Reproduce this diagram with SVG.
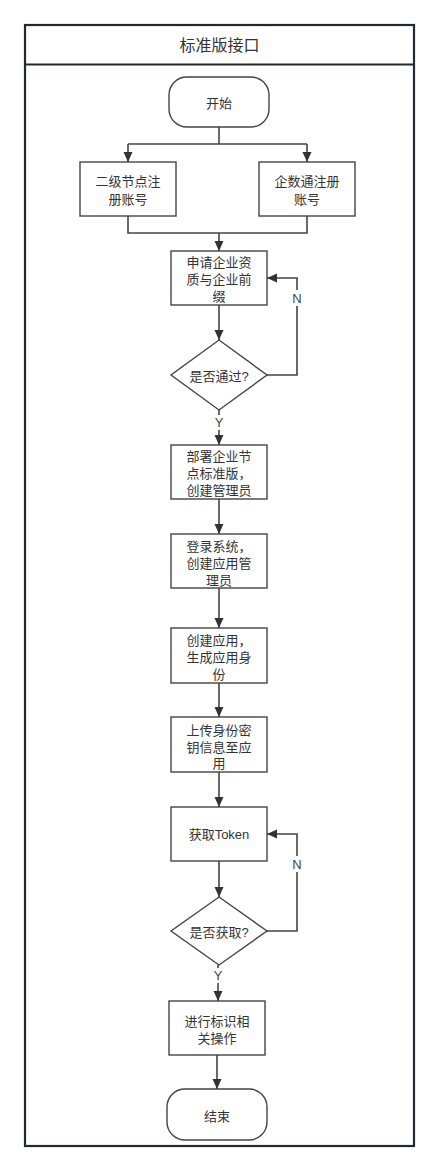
<svg xmlns="http://www.w3.org/2000/svg" width="439" height="1172" viewBox="0 0 439 1172">
<defs>
<style>
.frame{fill:#fff;stroke:#1f2a33;stroke-width:2.2}
.node{fill:#fff;stroke:#444;stroke-width:1.4}
.conn{fill:none;stroke:#444;stroke-width:1.6}
.t{font-family:"Liberation Sans","Noto Sans CJK SC",sans-serif;font-size:13px;fill:#333;text-anchor:middle;dominant-baseline:central}
.title{font-size:16px}
.lbl{font-family:"Liberation Sans","Noto Sans CJK SC",sans-serif;font-size:13px;fill:#444;text-anchor:middle;dominant-baseline:central}
</style>
<marker id="arr" viewBox="0 0 10 10" refX="10" refY="5" markerWidth="10" markerHeight="10" markerUnits="userSpaceOnUse" orient="auto">
<path d="M0,0.5 L10,5 L0,9.5 Z" fill="#333"/>
</marker>
</defs>
<rect width="439" height="1172" fill="#fff"/>
<g id="frame">
<rect class="frame" x="25" y="25" width="389" height="1121"/>
<line x1="25" y1="64.5" x2="414" y2="64.5" stroke="#1f2a33" stroke-width="2.2"/>
<text class="t title" x="219.5" y="45.5">标准版接口</text>
</g>
<g id="connectors">
<path class="conn" d="M219 127 V144 M128 144 H307"/>
<path class="conn" d="M128 144 V162" marker-end="url(#arr)"/>
<path class="conn" d="M307 144 V162" marker-end="url(#arr)"/>
<path class="conn" d="M128 216 V233 H307 V216"/>
<path class="conn" d="M219 233 V251" marker-end="url(#arr)"/>
<path class="conn" d="M219 305 V340" marker-end="url(#arr)"/>
<path class="conn" d="M267 375 H297 V278 H267" marker-end="url(#arr)"/>
<path class="conn" d="M219 410 V445" marker-end="url(#arr)"/>
<path class="conn" d="M219 499 V534" marker-end="url(#arr)"/>
<path class="conn" d="M219 588 V628" marker-end="url(#arr)"/>
<path class="conn" d="M219 683 V717" marker-end="url(#arr)"/>
<path class="conn" d="M219 772 V807" marker-end="url(#arr)"/>
<path class="conn" d="M219 861 V897" marker-end="url(#arr)"/>
<path class="conn" d="M267 931 H297 V834 H267" marker-end="url(#arr)"/>
<path class="conn" d="M218 965 V1001" marker-end="url(#arr)"/>
<path class="conn" d="M217 1055 V1089" marker-end="url(#arr)"/>
<rect x="290" y="290" width="14" height="16" fill="#fff"/>
<text class="lbl" x="297" y="298">N</text>
<rect x="290" y="856" width="14" height="16" fill="#fff"/>
<text class="lbl" x="297" y="864">N</text>
<rect x="212" y="415" width="14" height="15" fill="#fff"/>
<text class="lbl" x="219" y="422">Y</text>
<rect x="211" y="968" width="14" height="15" fill="#fff"/>
<text class="lbl" x="218" y="975">Y</text>
</g>
<g id="start">
<rect class="node" x="169" y="77" width="100" height="50" rx="18" ry="18"/>
<text class="t" x="219" y="103.5">开始</text>
</g>
<g id="reg-node">
<rect class="node" x="80" y="162" width="96" height="54"/>
<text class="t" x="128" y="181.5">二级节点注<tspan x="128" dy="17">册账号</tspan></text>
</g>
<g id="reg-qst">
<rect class="node" x="259" y="162" width="96" height="54"/>
<text class="t" x="307" y="181.5">企数通注册<tspan x="307" dy="17">账号</tspan></text>
</g>
<g id="apply">
<rect class="node" x="171" y="251" width="96" height="54"/>
<text class="t" x="219" y="262.5">申请企业资<tspan x="219" dy="16.5">质与企业前</tspan><tspan x="219" dy="16.5">缀</tspan></text>
</g>
<g id="pass">
<polygon class="node" points="219,340 267,375 219,410 171,375"/>
<text class="t" x="219" y="376">是否通过?</text>
</g>
<g id="deploy">
<rect class="node" x="171" y="445" width="96" height="54"/>
<text class="t" x="219" y="456.5">部署企业节<tspan x="219" dy="16.5">点标准版，</tspan><tspan x="219" dy="16.5">创建管理员</tspan></text>
</g>
<g id="login">
<rect class="node" x="171" y="534" width="96" height="54"/>
<text class="t" x="219" y="546.5">登录系统，<tspan x="219" dy="16.5">创建应用管</tspan><tspan x="219" dy="16.5">理员</tspan></text>
</g>
<g id="create-app">
<rect class="node" x="171" y="628" width="96" height="55"/>
<text class="t" x="219" y="640.5">创建应用，<tspan x="219" dy="16.5">生成应用身</tspan><tspan x="219" dy="16.5">份</tspan></text>
</g>
<g id="upload">
<rect class="node" x="171" y="717" width="96" height="55"/>
<text class="t" x="219" y="730">上传身份密<tspan x="219" dy="16.5">钥信息至应</tspan><tspan x="219" dy="16.5">用</tspan></text>
</g>
<g id="token">
<rect class="node" x="171" y="807" width="96" height="54"/>
<text class="t" x="219" y="834.5">获取Token</text>
</g>
<g id="got">
<polygon class="node" points="219,897 267,931 219,965 171,931"/>
<text class="t" x="219" y="932">是否获取?</text>
</g>
<g id="operate">
<rect class="node" x="169" y="1001" width="96" height="54"/>
<text class="t" x="217" y="1021.5">进行标识相<tspan x="217" dy="16.5">关操作</tspan></text>
</g>
<g id="end">
<rect class="node" x="167" y="1089" width="100" height="51" rx="18" ry="18"/>
<text class="t" x="217" y="1116">结束</text>
</g>
</svg>
